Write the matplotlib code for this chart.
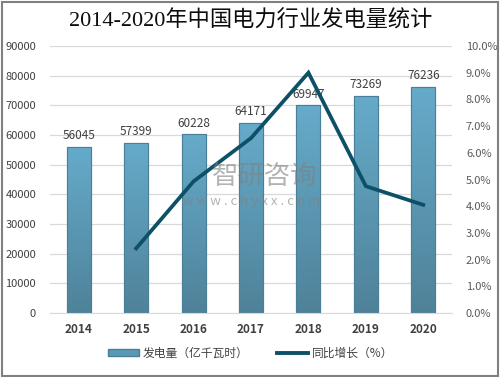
import matplotlib
matplotlib.use("Agg")
import matplotlib.pyplot as plt
import numpy as np
from matplotlib.patches import Rectangle, Patch
from matplotlib.lines import Line2D
from matplotlib.colors import LinearSegmentedColormap

plt.rcParams['font.family'] = ['Noto Sans CJK SC', 'DejaVu Sans']

years = ['2014', '2015', '2016', '2017', '2018', '2019', '2020']
generation = [56045, 57399, 60228, 64171, 69947, 73269, 76236]
growth_years = ['2015', '2016', '2017', '2018', '2019', '2020']
growth = [2.42, 4.93, 6.55, 9.0, 4.75, 4.05]
left_ticks = [0, 10000, 20000, 30000, 40000, 50000, 60000, 70000, 80000, 90000]
right_ticks = [0, 1, 2, 3, 4, 5, 6, 7, 8, 9, 10]
title = '2014-2020年中国电力行业发电量统计'
legend_bar = '发电量（亿千瓦时）'
legend_line = '同比增长（%）'

fig = plt.figure(figsize=(5.01, 3.77), dpi=100)
ax = fig.add_axes([50/501, 1-313/377, (452-50)/501, (313-46)/377])

x = np.arange(len(years))
bars = ax.bar(x, generation, width=0.42, color='#5b98b5', edgecolor='#4a7f99', linewidth=0.8, zorder=2)
cmap = LinearSegmentedColormap.from_list('g', ['#4f8299', '#66abca'])
grad = np.linspace(0, 1, 256).reshape(-1, 1)
for b in bars:
    bx, by, bw, bh = b.get_x(), b.get_y(), b.get_width(), b.get_height()
    im = ax.imshow(grad, extent=[bx, bx+bw, by, by+bh], origin='lower', aspect='auto', cmap=cmap, zorder=2)
    im.set_clip_path(b)
    r = Rectangle((bx, by), bw, bh, fill=False, edgecolor='#4a7f99', linewidth=0.8, zorder=3)
    ax.add_patch(r)

for xi, v in zip(x, generation):
    ax.text(xi, v + 1500, str(v), ha='center', va='bottom', fontsize=8.5, color='#404040', zorder=5)

ax.set_xlim(-0.5, len(years) - 0.5)
ax.set_ylim(0, 90000)
ax.set_yticks(left_ticks)
ax.set_yticklabels([str(t) for t in left_ticks], fontsize=8, color='#404040')
ax.set_xticks(x)
ax.set_xticklabels(years, fontsize=8.5, fontweight='bold', color='#404040')
ax.tick_params(axis='y', length=0, pad=10)
ax.tick_params(axis='x', length=0, pad=7)
ax.grid(axis='y', color='#d9d9d9', linewidth=0.9, zorder=0)
ax.set_axisbelow(True)
for s in ['top', 'right', 'left']:
    ax.spines[s].set_visible(False)
ax.spines['bottom'].set_color('#d9d9d9')

ax2 = ax.twinx()
gx = [years.index(y) for y in growth_years]
ax2.plot(gx, growth, color='#0d5166', linewidth=2.7, zorder=6, solid_joinstyle='miter')
ax2.set_ylim(0, 10)
ax2.set_yticks(right_ticks)
ax2.set_yticklabels([f'{t:.1f}%' for t in right_ticks], fontsize=8, color='#595959')
ax2.tick_params(axis='y', length=0, pad=10)
for s in ['top', 'right', 'left', 'bottom']:
    ax2.spines[s].set_visible(False)

# watermark
fig.text(265/501, 1-176/377, '智研咨询', ha='center', va='center', fontsize=19, color='#808080',
         alpha=0.6, zorder=10)
fig.text(252/501, 1-202/377, 'w w w . c h y x x . c o m', ha='center', va='center', fontsize=9.5,
         color='#808080', alpha=0.6, zorder=10)

fig.text(0.5, 0.945, title, ha='center', va='center', fontsize=16, fontweight='medium',
         family=['Liberation Serif', 'Noto Sans CJK SC'], color='#0d0d0d')

handles = [Patch(facecolor='#5b98b5', edgecolor='#4a7f99'),
           Line2D([0], [0], color='#0d5166', linewidth=2.8)]
fig.legend(handles, [legend_bar, legend_line], loc='center', bbox_to_anchor=(0.5, 1-353/377),
           ncol=2, frameon=False, fontsize=8.5, handlelength=2.6, handleheight=0.6,
           columnspacing=2.5, handletextpad=0.3, labelcolor='#404040')

fig.add_artist(Rectangle((0.003, 0.003), 0.992, 0.992, transform=fig.transFigure, fill=False,
                         edgecolor='#808080', linewidth=1.5))

fig.savefig('out.png', dpi=100)
